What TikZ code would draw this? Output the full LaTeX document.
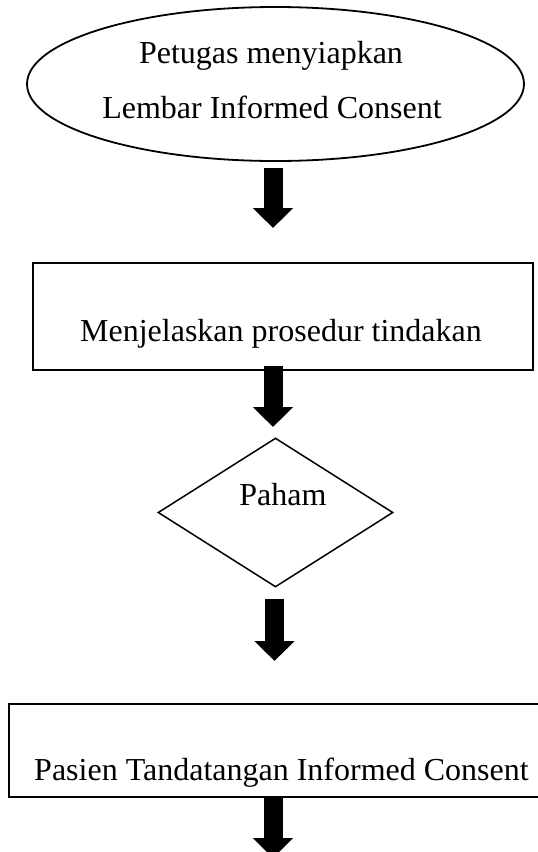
\documentclass[tikz,border=0pt]{standalone}
\usepackage{fontspec}
\setmainfont{Liberation Serif}
\usetikzlibrary{shapes.geometric,arrows.meta,calc}
\begin{document}
\begin{tikzpicture}[x=1pt,y=-1pt,
  lbl/.style={font=\fontsize{32}{38}\selectfont, inner sep=0, anchor=base},
  boxnode/.style={draw, line width=2pt, inner sep=0, rectangle},
  blk/.style={line width=19pt, -{Triangle[width=39pt,length=20pt]}},
]
\useasboundingbox (0,0) rectangle (538,852);
\clip (0,0) rectangle (538,852);
% shapes
\node[draw, ellipse, line width=1.8pt, minimum width=497pt, minimum height=154pt, inner sep=0] (ell) at (275.5,84) {};
\node[lbl] (t1) at (271,63) {Petugas menyiapkan};
\node[lbl] (t2) at (272,118) {Lembar Informed Consent};
\node[boxnode, minimum width=500.4pt, minimum height=107pt] (r1) at (283,316.5) {};
\node[lbl] (t3) at (281,341.5) {Menjelaskan prosedur tindakan};
\node[draw, diamond, line width=1.5pt, minimum width=235pt, minimum height=149pt, aspect=1.577, inner sep=0] (dia) at (275.5,512.5) {};
\node[lbl] (t4) at (283,505) {Paham};
\node[boxnode, minimum width=545pt, minimum height=93pt] (r2) at (281.8,750.5) {};
\node[lbl] (t5) at (281.5,780) {Pasien Tandatangan Informed Consent};
% connectors
\coordinate (ax) at (273,0);
\coordinate (bx) at (274.5,0);
\coordinate (e1) at (273,228);
\coordinate (e2) at (273,427);
\coordinate (e3) at (274.5,661);
\coordinate (e4) at (273,858);
\draw[blk] ($(ell.south -| ax)+(0,6)$) -- (e1);
\draw[blk] ($(r1.south -| ax)+(0,-5)$) -- (e2);
\draw[blk] ($(dia.south -| bx)+(0,11)$) -- (e3);
\draw[blk] (r2.south -| ax) -- (e4);
\end{tikzpicture}
\end{document}
